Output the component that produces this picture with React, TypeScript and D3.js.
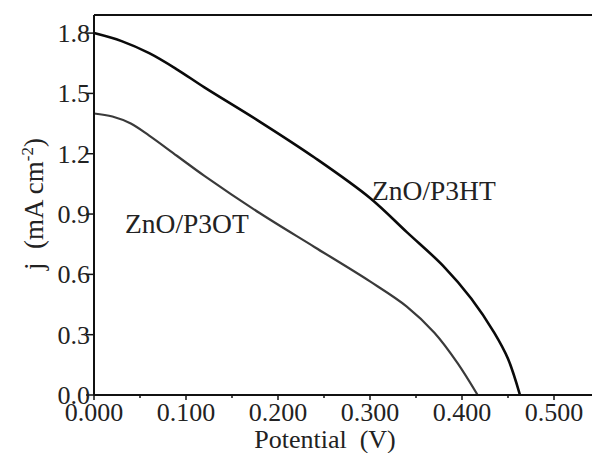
import React from 'react';
import * as d3 from 'd3';

// potential (V) vs current density (mA cm^-2)
const p3htV = [0, 0.03, 0.06, 0.09, 0.12, 0.18, 0.24, 0.30, 0.34, 0.38, 0.41, 0.435, 0.45, 0.463];
const p3htJ = [1.80, 1.76, 1.70, 1.62, 1.53, 1.36, 1.18, 0.98, 0.81, 0.64, 0.48, 0.31, 0.18, 0.0];
const p3otV = [0, 0.02, 0.04, 0.06, 0.09, 0.12, 0.18, 0.24, 0.30, 0.34, 0.37, 0.395, 0.417];
const p3otJ = [1.40, 1.385, 1.35, 1.29, 1.19, 1.09, 0.905, 0.735, 0.565, 0.44, 0.31, 0.16, 0.0];

const xTicks = [0, 0.1, 0.2, 0.3, 0.4, 0.5];
const xMinor = [0.05, 0.15, 0.25, 0.35, 0.45];
const yTicks = [0, 0.3, 0.6, 0.9, 1.2, 1.5, 1.8];

const font = "'Liberation Serif', 'Times New Roman', serif";

export default function App() {
  const W = 592, H = 453;
  const m = { left: 94, top: 15, right: 600, bottom: 395 };
  const x = d3.scaleLinear().domain([0, 0.55]).range([m.left, m.right]);
  const y = d3.scaleLinear().domain([0, 1.89]).range([m.bottom, m.top]);

  const line = d3.line<[number, number]>()
    .x(d => x(d[0]))
    .y(d => y(d[1]))
    .curve(d3.curveCatmullRom.alpha(0.5));

  const p3ht = p3htV.map((v, i) => [v, p3htJ[i]] as [number, number]);
  const p3ot = p3otV.map((v, i) => [v, p3otJ[i]] as [number, number]);
  const txt = { fontFamily: font, fontSize: 26, fill: '#222', whiteSpace: 'pre' } as React.CSSProperties;

  return (
    <svg width={W} height={H} style={{ position: 'absolute', left: 0, top: 0, background: '#fff' }}>
      <rect x={0} y={0} width={W} height={H} fill="#fff" />
      <path d={line(p3ot) || ''} fill="none" stroke="#3a3a3a" strokeWidth={2.2} />
      <path d={line(p3ht) || ''} fill="none" stroke="#0a0a0a" strokeWidth={2.6} />

      {/* frame */}
      <line x1={m.left} x2={m.left} y1={m.top} y2={m.bottom} stroke="#111" strokeWidth={2} />
      <line x1={m.left} x2={W} y1={m.top} y2={m.top} stroke="#111" strokeWidth={2} />
      <line x1={m.left} x2={W} y1={m.bottom} y2={m.bottom} stroke="#111" strokeWidth={2} />

      {yTicks.map(t => (
        <g key={'y' + t}>
          <line x1={m.left - 8} x2={m.left} y1={y(t)} y2={y(t)} stroke="#111" strokeWidth={1.5} />
          <text x={m.left - 4} y={y(t) + 9} textAnchor="end" style={txt}>{t.toFixed(1)}</text>
        </g>
      ))}
      {xTicks.map(t => (
        <g key={'x' + t}>
          <line x1={x(t)} x2={x(t)} y1={m.bottom} y2={m.bottom + 5} stroke="#111" strokeWidth={1.5} />
          <text x={x(t)} y={m.bottom + 26} textAnchor="middle" style={txt}>{t.toFixed(3)}</text>
        </g>
      ))}
      {xMinor.map(t => (
        <line key={'m' + t} x1={x(t)} x2={x(t)} y1={m.bottom} y2={m.bottom + 3} stroke="#111" strokeWidth={1.5} />
      ))}

      <text x={325} y={448} textAnchor="middle" style={txt}>Potential  (V)</text>
      <text transform="translate(43,204) rotate(-90)" textAnchor="middle" style={{ ...txt, fontSize: 27 }}>
        j  (mA cm<tspan dy={-10} style={{ fontSize: 17 }}>-2</tspan><tspan dy={10}>)</tspan>
      </text>

      <text x={372} y={200} style={{ ...txt, fontSize: 27.5 }}>ZnO/P3HT</text>
      <text x={125} y={233} style={{ ...txt, fontSize: 27.5 }}>ZnO/P3OT</text>
    </svg>
  );
}
